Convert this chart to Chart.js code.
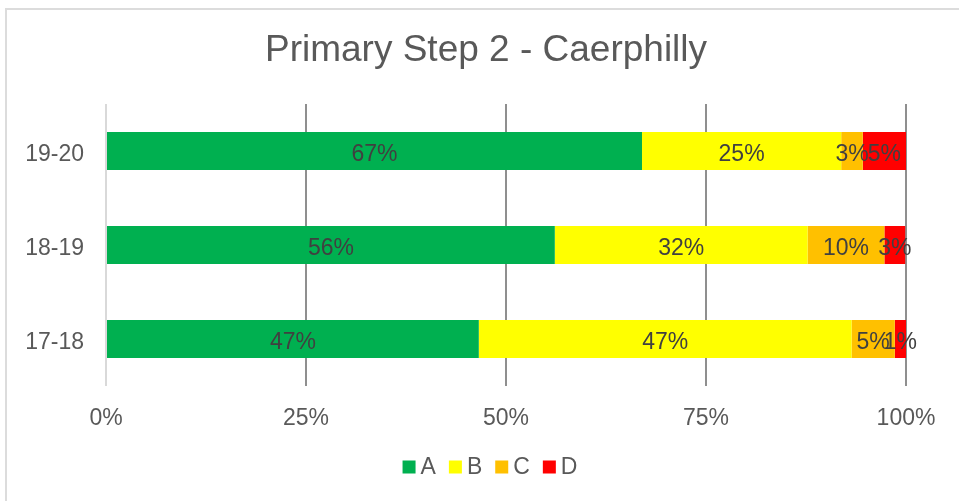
<!DOCTYPE html>
<html>
<head>
<meta charset="utf-8">
<script src="https://cdn.jsdelivr.net/npm/chart.js@4"></script>
<style>
    html, body { margin: 0; padding: 0; background: #fff; overflow: hidden; }
    #wrap { position: relative; width: 959px; height: 501px; }
    #frame { position: absolute; left: 5px; top: 8px; width: 1000px; height: 1000px; border: 2px solid #dcdcdc; }
    #chart { position: absolute; left: 0; top: 0; }
</style>
</head>
<body>
<div id="wrap">
    <div id="frame"></div>
    <canvas id="chart" width="959" height="501"></canvas>
</div>
<script>
// Data chart
const categories = ['19-20', '18-19', '17-18'];
const seriesNames = ['A', 'B', 'C', 'D'];
const seriesA = [67.0, 56.1, 46.6];
const seriesB = [24.9, 31.6, 46.6];
const seriesC = [2.7, 9.6, 5.4];
const seriesD = [5.4, 2.6, 1.4];
const seriesColors = ['#00B050', '#FFFF00', '#FFC000', '#FF0000'];
const xTicks = [0, 25, 50, 75, 100];
const chartTitle = 'Primary Step 2 - Caerphilly';

const FONT = "'Liberation Sans', Arial, sans-serif";

document.addEventListener('DOMContentLoaded', () => {
    initializeChart();
});

/**
 * Judul chart, posisinya sedikit ke kanan seperti di Excel.
 */
const excelTitle = {
    id: 'excelTitle',
    afterDraw(chart, args, opts) {
        const ctx = chart.ctx;
        ctx.save();
        ctx.font = '37px ' + FONT;
        ctx.fillStyle = '#595959';
        ctx.textAlign = 'center';
        ctx.textBaseline = 'middle';
        ctx.fillText(opts.text, 486, 51);
        ctx.restore();
    }
};

/**
 * Label persentase di tengah setiap segmen batang.
 */
const segmentLabels = {
    id: 'segmentLabels',
    afterDatasetsDraw(chart) {
        const ctx = chart.ctx;
        ctx.save();
        ctx.font = '23px ' + FONT;
        ctx.fillStyle = '#404040';
        ctx.textAlign = 'center';
        ctx.textBaseline = 'middle';
        chart.data.datasets.forEach((ds, i) => {
            const meta = chart.getDatasetMeta(i);
            meta.data.forEach((bar, j) => {
                const cx = (bar.x + bar.base) / 2;
                ctx.fillText(Math.round(ds.data[j]) + '%', cx, bar.y + 4);
            });
        });
        ctx.restore();
    }
};

/**
 * Legenda sederhana ala Excel di bawah chart.
 */
const excelLegend = {
    id: 'excelLegend',
    afterDraw(chart) {
        const ctx = chart.ctx;
        const box = 13, gap = 5, spacing = 13;
        ctx.save();
        ctx.font = '23px ' + FONT;
        ctx.textBaseline = 'middle';
        const items = chart.data.datasets.map(ds => ({
            label: ds.label,
            color: ds.backgroundColor,
            w: box + gap + ctx.measureText(ds.label).width
        }));
        const total = items.reduce((s, it) => s + it.w, 0) + spacing * (items.length - 1);
        let x = 490 - total / 2;
        const y = 467;
        items.forEach(it => {
            ctx.fillStyle = it.color;
            ctx.fillRect(x, y - box / 2, box, box);
            ctx.fillStyle = '#595959';
            ctx.fillText(it.label, x + box + gap, y + 1);
            x += it.w + spacing;
        });
        ctx.restore();
    }
};

function initializeChart() {
    const ctx = document.getElementById('chart').getContext('2d');
    const values = [seriesA, seriesB, seriesC, seriesD];

    new Chart(ctx, {
        type: 'bar',
        data: {
            labels: categories,
            datasets: seriesNames.map((name, i) => ({
                label: name,
                data: values[i],
                backgroundColor: seriesColors[i],
                borderWidth: 0,
                categoryPercentage: 1,
                barPercentage: 0.404
            }))
        },
        options: {
            indexAxis: 'y',
            responsive: false,
            animation: false,
            devicePixelRatio: 1,
            layout: { padding: { left: 0, right: 53, top: 104, bottom: 65 } },
            plugins: {
                legend: { display: false },
                tooltip: { enabled: false },
                title: { display: false },
                excelTitle: { text: chartTitle }
            },
            scales: {
                x: {
                    stacked: true,
                    min: 0,
                    max: 100,
                    afterBuildTicks: scale => { scale.ticks = xTicks.map(v => ({ value: v })); },
                    afterFit: scale => { scale.height = 50; },
                    border: { display: false },
                    grid: {
                        drawTicks: false,
                        lineWidth: 2,
                        color: c => (c.tick && c.tick.value === 0) ? '#d9d9d9' : '#8f8f8f'
                    },
                    ticks: {
                        padding: 19,
                        color: '#595959',
                        font: { family: FONT, size: 23 },
                        callback: v => v + '%'
                    }
                },
                y: {
                    stacked: true,
                    afterFit: scale => { scale.width = 106; },
                    border: { display: false },
                    grid: { display: false, drawTicks: false },
                    ticks: {
                        padding: 22,
                        labelOffset: 4,
                        color: '#595959',
                        font: { family: FONT, size: 23 }
                    }
                }
            }
        },
        plugins: [segmentLabels, excelLegend, excelTitle]
    });
}
</script>
</body>
</html>
